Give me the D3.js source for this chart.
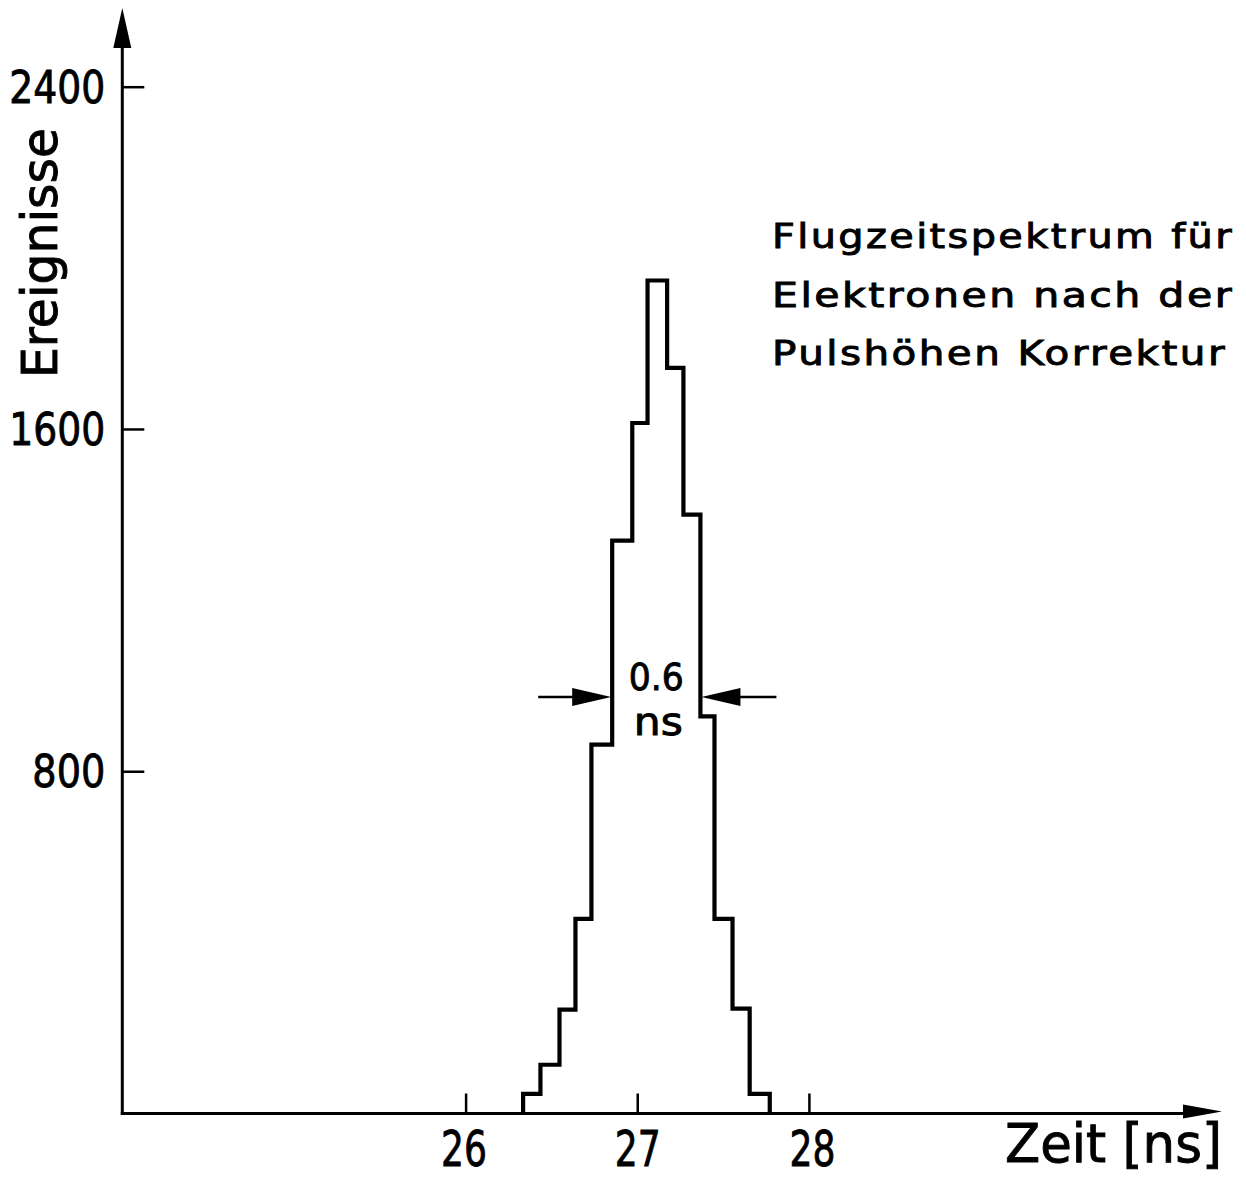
<!DOCTYPE html>
<html>
<head>
<meta charset="utf-8">
<script src="https://cdn.jsdelivr.net/npm/d3@7"></script>
<style>
  html, body { margin: 0; padding: 0; background: #fff; }
  svg { display: block; }
  text { font-family: "DejaVu Sans", sans-serif; fill: #000; stroke: #000; stroke-width: 0.9px; }
</style>
</head>
<body>
<svg id="chart" width="1246" height="1177"></svg>
<script>
// Time-of-flight histogram: bin edges (ns) and counts per bin
const binEdges = [26.335, 26.436, 26.547, 26.640, 26.733, 26.854, 26.971,
                  27.060, 27.174, 27.269, 27.368, 27.450, 27.555, 27.655, 27.772];
const counts = [46, 114, 243, 455, 862, 1339, 1614, 1947, 1743, 1400, 928, 455, 245, 46];

const xTicks = [26, 27, 28];
const yTicks = [800, 1600, 2400];
const xTitle = "Zeit [ns]";
const yTitle = "Ereignisse";
const noteLines = ["Flugzeitspektrum für", "Elektronen nach der", "Pulshöhen Korrektur"];
const widthLabel = ["0.6", "ns"];

const svg = d3.select("#chart");

const x = d3.scaleLinear().domain([24, 30]).range([122.3, 1152.2]);
const y = d3.scaleLinear().domain([0, 2400]).range([1113.5, 86.7]);

const x0 = x(24), y0 = y(0);

// Axis lines with arrowheads
svg.append("line")
  .attr("x1", x0).attr("y1", y0 + 1.5).attr("x2", x0).attr("y2", 40)
  .attr("stroke", "#000").attr("stroke-width", 3);
svg.append("path")
  .attr("d", `M${x0},8 L${x0 - 9},48 L${x0 + 9},48 Z`)
  .attr("fill", "#000");

svg.append("line")
  .attr("x1", x0 - 1.5).attr("y1", y0).attr("x2", 1190).attr("y2", y0)
  .attr("stroke", "#000").attr("stroke-width", 3);
svg.append("path")
  .attr("d", `M1222,${y0 - 2} L1183,${y0 - 9} L1183,${y0 + 5} Z`)
  .attr("fill", "#000");

// Ticks pointing into the plot
const xAxis = svg.append("g")
  .attr("transform", `translate(0,${y0})`)
  .call(d3.axisBottom(x).tickValues(xTicks).tickSize(-20).tickPadding(52).tickFormat(d3.format("d")));
xAxis.select(".domain").remove();
xAxis.selectAll(".tick line").attr("stroke", "#000").attr("stroke-width", 2.5);
xAxis.selectAll(".tick text")
  .attr("font-size", 50).attr("y", 52).attr("dy", 0)
  .attr("font-family", "DejaVu Sans")
  .attr("textLength", 46).attr("lengthAdjust", "spacingAndGlyphs")
  .attr("dx", (d, i) => [-2, 0, 3][i]);

const yAxis = svg.append("g")
  .attr("transform", `translate(${x0},0)`)
  .call(d3.axisLeft(y).tickValues(yTicks).tickSize(-22).tickPadding(18).tickFormat(d3.format("d")));
yAxis.select(".domain").remove();
yAxis.selectAll(".tick line").attr("stroke", "#000").attr("stroke-width", 2.5);
yAxis.selectAll(".tick text")
  .attr("font-size", 45).attr("x", -17).attr("dy", "0.34em")
  .attr("font-family", "DejaVu Sans")
  .attr("textLength", d => String(d).length === 4 ? 96 : 73)
  .attr("lengthAdjust", "spacingAndGlyphs");

// Histogram outline
const pts = [[binEdges[0], 0]];
counts.forEach((c, i) => {
  pts.push([binEdges[i], c]);
  pts.push([binEdges[i + 1], c]);
});
pts.push([binEdges[binEdges.length - 1], 0]);

svg.append("path")
  .attr("d", d3.line().x(d => x(d[0])).y(d => y(d[1]))(pts))
  .attr("fill", "none").attr("stroke", "#000")
  .attr("stroke-width", 4.2).attr("stroke-linejoin", "miter");

// Width marker at half maximum
const half = d3.max(counts) / 2;
const ya = y(half);
const leftTip = x(binEdges[5]) - 1, rightTip = x(binEdges[10]) + 1;
svg.append("line").attr("x1", leftTip - 73).attr("x2", leftTip - 30)
  .attr("y1", ya).attr("y2", ya).attr("stroke", "#000").attr("stroke-width", 2.5);
svg.append("path")
  .attr("d", `M${leftTip},${ya} L${leftTip - 39},${ya - 9} L${leftTip - 39},${ya + 9} Z`)
  .attr("fill", "#000");
svg.append("line").attr("x1", rightTip + 75).attr("x2", rightTip + 30)
  .attr("y1", ya).attr("y2", ya).attr("stroke", "#000").attr("stroke-width", 2.5);
svg.append("path")
  .attr("d", `M${rightTip},${ya} L${rightTip + 39},${ya - 9} L${rightTip + 39},${ya + 9} Z`)
  .attr("fill", "#000");

// Two-line width label
const midX = (leftTip + rightTip) / 2;
svg.append("text").text(widthLabel[0])
  .attr("x", midX).attr("y", ya - 7.5).attr("text-anchor", "middle")
  .attr("font-size", 38).attr("textLength", 55).attr("lengthAdjust", "spacingAndGlyphs");
svg.append("text").text(widthLabel[1])
  .attr("x", midX + 2).attr("y", ya + 38).attr("text-anchor", "middle")
  .attr("font-size", 38).attr("textLength", 49).attr("lengthAdjust", "spacingAndGlyphs");

// Axis titles
svg.append("text").text(xTitle)
  .attr("x", 1222).attr("y", 1162).attr("text-anchor", "end")
  .attr("font-size", 53).attr("textLength", 217).attr("lengthAdjust", "spacingAndGlyphs");

svg.append("text").text(yTitle)
  .attr("transform", "translate(57,253) rotate(-90)")
  .attr("text-anchor", "middle")
  .attr("font-size", 50).attr("textLength", 250).attr("lengthAdjust", "spacingAndGlyphs");

// Caption block
const noteWidths = [462, 462, 455];
noteLines.forEach((t, i) => {
  svg.append("text").text(t)
    .attr("x", 772).attr("y", 248 + i * 58.5)
    .attr("font-size", 33)
    .attr("letter-spacing", 2)
    .attr("textLength", noteWidths[i]).attr("lengthAdjust", "spacingAndGlyphs");
});
</script>
</body>
</html>
